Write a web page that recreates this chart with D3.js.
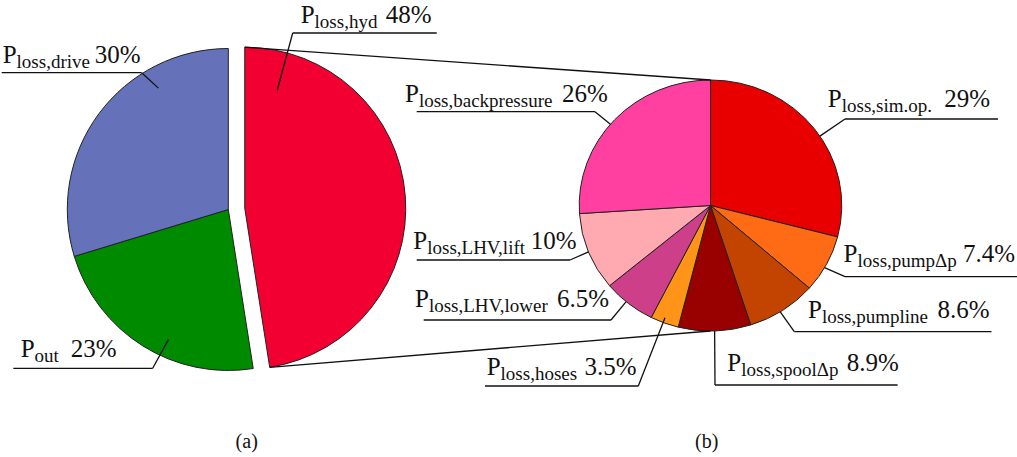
<!DOCTYPE html>
<html>
<head>
<meta charset="utf-8">
<script src="https://cdn.jsdelivr.net/npm/d3@7"></script>
<style>
body { margin: 0; background: #fff; }
.lbl { font-family: "Liberation Serif"; fill: #111; }
</style>
</head>
<body>
<svg id="chart" width="1017" height="457"></svg>
<script>
// data: pie (a), clockwise from top
var leftNames = ["loss,hyd", "out", "loss,drive"];
var leftValues = [48, 23, 30];
var leftColors = ["#f20032", "#008a00", "#6571b8"];

// data: pie (b), breakdown of P_loss,hyd, clockwise from top
var rightNames = ["loss,sim.op.", "loss,pumpΔp", "loss,pumpline", "loss,spoolΔp",
                  "loss,hoses", "loss,LHV,lower", "loss,LHV,lift", "loss,backpressure"];
var rightValues = [29, 7.4, 8.6, 8.9, 3.5, 6.5, 10, 26];
var rightColors = ["#e80000", "#ff6a14", "#c24400", "#990000",
                   "#ff9418", "#cd3f88", "#ffaab0", "#ff40a0"];

var captions = ["(a)", "(b)"];

// label placement (text start, percent end, underline, where the leader hits the slice)
var leftLayout = [
  {x: 300.7, y: 23, end: 431.7, u0: 292.7, u1: 436.7, uy: 33, from: 0, t: 0.09, k: 0.76},
  {x: 20.7, y: 356.7, end: 116.7, u0: 13.3, u1: 152.7, uy: 368.3, from: 1, t: 0.41, k: 0.89},
  {x: 2.7, y: 62.7, end: 140.5, u0: 1.7, u1: 141.7, uy: 72.7, from: 1, t: 0.72, k: 0.87}
];
var rightLayout = [
  {x: 827.8, y: 106.5, end: 990, u0: 845, u1: 998, uy: 119, from: 0, t: 0.54, k: 1},
  {x: 843.6, y: 261.7, end: 1015, u0: 845, u1: 1017, uy: 276.7, from: 0, t: 0.57, k: 1},
  {x: 808, y: 318.3, end: 989.5, u0: 794.3, u1: 991.5, uy: 331.7, from: 0, t: 0.54, k: 1},
  {x: 727.3, y: 370.7, end: 898.8, u0: 715, u1: 897.6, uy: 385, from: 0, t: 0.5, k: 1},
  {x: 486.7, y: 375, end: 636.7, u0: 485, u1: 638.3, uy: 386, from: 1, t: 0.55, k: 0.96},
  {x: 415, y: 307, end: 609, u0: 423.7, u1: 611, uy: 320, from: 1, t: 0.56, k: 1},
  {x: 413.3, y: 249.3, end: 576.7, u0: 416.7, u1: 570, uy: 260, from: 1, t: 0.5, k: 1},
  {x: 405, y: 101.7, end: 607.8, u0: 416.7, u1: 595, uy: 111.7, from: 1, t: 0.47, k: 1}
];

var svg = d3.select("#chart");

var pie = d3.pie().sort(null).value(function(d) { return d; });

// pie (a)
var L = {cx: 228.3, cy: 209.5, r: 161, sy: 1, explode: 16.5};
var leftArcs = pie(leftValues);

function offsetOf(d, c) {
  if (!c.explode || d.index != 0) return [0, 0];
  var mid = (d.startAngle + d.endAngle) / 2;
  return [c.explode * Math.sin(mid), -c.explode * Math.cos(mid)];
}

// point on a pie at angle a (clockwise from top)
function pt(c, a, k, off) {
  off = off || [0, 0];
  return [c.cx + off[0] + k * c.r * Math.sin(a),
          c.cy + off[1] - k * c.r * c.sy * Math.cos(a)];
}

var arcL = d3.arc().innerRadius(0).outerRadius(L.r);

svg.append("g")
  .attr("transform", "translate(" + L.cx + "," + L.cy + ")")
  .selectAll("path")
  .data(leftArcs)
  .enter()
  .append("path")
  .attr("d", arcL)
  .attr("transform", function(d) { return "translate(" + offsetOf(d, L) + ")"; })
  .attr("fill", function(d, i) { return leftColors[i]; })
  .attr("stroke", "#222")
  .attr("stroke-width", 1);

// pie (b), slightly wider than tall
var R = {cx: 710.5, cy: 205.5, r: 131.3, sy: 125.5 / 131.3};
var rightArcs = pie(rightValues);
var arcR = d3.arc().innerRadius(0).outerRadius(R.r);

svg.append("g")
  .attr("transform", "translate(" + R.cx + "," + R.cy + ") scale(1," + R.sy + ")")
  .selectAll("path")
  .data(rightArcs)
  .enter()
  .append("path")
  .attr("d", arcR)
  .attr("fill", function(d, i) { return rightColors[i]; })
  .attr("stroke", "#222")
  .attr("stroke-width", 1)
  .attr("vector-effect", "non-scaling-stroke");

// lines joining the hyd slice to pie (b)
var hyd = leftArcs[0];
var hydOff = offsetOf(hyd, L);
var joins = [
  [pt(L, hyd.startAngle, 1, hydOff), pt(R, 0, 1)],
  [pt(L, hyd.endAngle, 1, hydOff), pt(R, Math.PI, 1)]
];
svg.selectAll("line.join")
  .data(joins)
  .enter()
  .append("line")
  .attr("class", "join")
  .attr("x1", function(d) { return d[0][0]; })
  .attr("y1", function(d) { return d[0][1]; })
  .attr("x2", function(d) { return d[1][0]; })
  .attr("y2", function(d) { return d[1][1]; })
  .attr("stroke", "#111")
  .attr("stroke-width", 1.3);

function drawLabels(arcs, names, values, layout, c) {
  arcs.forEach(function(d, i) {
    var p = layout[i];
    var a = d.startAngle + p.t * (d.endAngle - d.startAngle);
    var s = pt(c, a, p.k, offsetOf(d, c));
    var ux = p.from == 0 ? p.u0 : p.u1;

    // underline, then leader to the slice
    svg.append("line")
      .attr("x1", p.u0).attr("y1", p.uy)
      .attr("x2", p.u1).attr("y2", p.uy)
      .attr("stroke", "#111")
      .attr("stroke-width", 1.3);
    svg.append("line")
      .attr("x1", ux).attr("y1", p.uy)
      .attr("x2", s[0]).attr("y2", s[1])
      .attr("stroke", "#111")
      .attr("stroke-width", 1.3);

    var t = svg.append("text")
      .attr("class", "lbl")
      .attr("x", p.x)
      .attr("y", p.y)
      .attr("font-size", 25);
    t.append("tspan").text("P");
    t.append("tspan")
      .attr("dy", 5)
      .attr("font-size", 19)
      .text(names[i]);

    svg.append("text")
      .attr("class", "lbl")
      .attr("x", p.end)
      .attr("y", p.y)
      .attr("text-anchor", "end")
      .attr("font-size", 25)
      .text(values[i] + "%");
  });
}

drawLabels(leftArcs, leftNames, leftValues, leftLayout, L);
drawLabels(rightArcs, rightNames, rightValues, rightLayout, R);

svg.selectAll("text.cap")
  .data(captions)
  .enter()
  .append("text")
  .attr("class", "cap lbl")
  .attr("x", function(d, i) { return i == 0 ? 246.7 : 706.7; })
  .attr("y", 448)
  .attr("text-anchor", "middle")
  .attr("font-size", 20)
  .text(function(d) { return d; });
</script>
</body>
</html>
